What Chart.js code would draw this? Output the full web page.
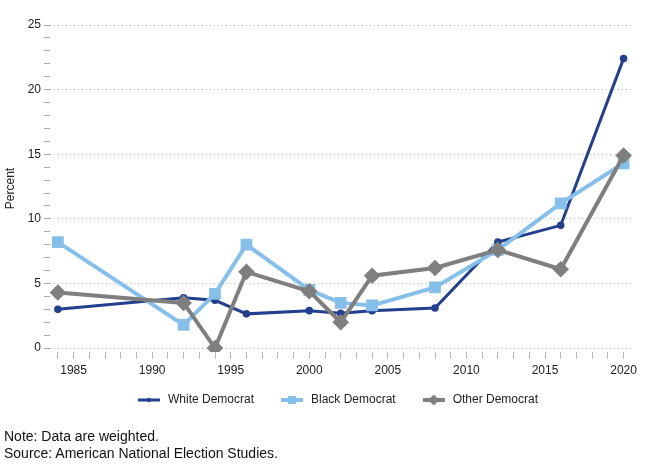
<!DOCTYPE html>
<html>
<head>
<meta charset="utf-8">
<script src="https://cdn.jsdelivr.net/npm/chart.js@4.4.1/dist/chart.umd.min.js"></script>
<style>
  body { margin: 0; background: #fff; font-family: "Liberation Sans", Arial, sans-serif; }
  #wrap { position: absolute; left: 0; top: 0; width: 645px; height: 440px; }
  .note { position: absolute; left: 4px; font-size: 14px; color: #111; }
</style>
</head>
<body>
<div id="wrap"><canvas id="myChart"></canvas></div>
<div class="note" style="top:428px">Note: Data are weighted.</div>
<div class="note" style="top:445px">Source: American National Election Studies.</div>
<script>
const years = [1984, 1992, 1994, 1996, 2000, 2002, 2004, 2008, 2012, 2016, 2020]
const whiteDem = [3.0, 3.9, 3.7, 2.65, 2.9, 2.7, 2.9, 3.1, 8.2, 9.5, 22.4]
const blackDem = [8.2, 1.8, 4.2, 8.0, 4.5, 3.5, 3.3, 4.7, 7.6, 11.2, 14.3]
const otherDem = [4.3, 3.5, 0.0, 5.9, 4.4, 2.0, 5.6, 6.2, 7.6, 6.1, 14.9]

// tick positions (labels only every 5)
const xTicks = [1984, 1985, 1986, 1987, 1988, 1989, 1990, 1991, 1992, 1993, 1994, 1995, 1996, 1997, 1998, 1999, 2000,
    2001, 2002, 2003, 2004, 2005, 2006, 2007, 2008, 2009, 2010, 2011, 2012, 2013, 2014, 2015, 2016, 2017, 2018, 2019, 2020]
const yTicks = [0, 1, 2, 3, 4, 5, 6, 7, 8, 9, 10, 11, 12, 13, 14, 15, 16, 17, 18, 19, 20, 21, 22, 23, 24, 25]

const navy = '#233f8e'
const sky = '#86c0ea'
const grey = '#7f7f7f'
const fontFamily = '"Liberation Sans", Arial, sans-serif'

// little line+marker samples for the legend
const legendIcon = (color, width, shape) => {
    const c = document.createElement('canvas')
    c.width = 22
    c.height = 12
    const g = c.getContext('2d')
    g.strokeStyle = color
    g.fillStyle = color
    g.lineWidth = width
    g.beginPath()
    g.moveTo(0, 6)
    g.lineTo(22, 6)
    g.stroke()
    g.beginPath()
    if (shape === 'circle') g.arc(11, 6, 2.2, 0, Math.PI * 2)
    if (shape === 'rect') g.rect(7, 2, 8, 8)
    if (shape === 'diamond') { g.moveTo(11, 0.5); g.lineTo(16.5, 6); g.lineTo(11, 11.5); g.lineTo(5.5, 6); g.closePath() }
    g.fill()
    return c
}
const icons = [legendIcon(navy, 3, 'circle'), legendIcon(sky, 4, 'rect'), legendIcon(grey, 4, 'diamond')]

const toPoints = (vals) => vals.map((v, i) => ({ x: years[i], y: v }))

// nudge the legend: centred under the plot area and pulled up towards the axis
const placeLegend = {
    id: 'placeLegend',
    afterLayout(chart) {
        const lg = chart.legend
        if (!lg) return
        const shiftX = chart.chartArea.left - 9
        const shiftY = -13
        lg.left += shiftX
        lg.top += shiftY
        lg.bottom += shiftY
        if (lg.legendHitBoxes) lg.legendHitBoxes.forEach(b => { b.left += shiftX / 2; b.top += shiftY })
    }
}

const data = {
    datasets: [{
        label: 'White Democrat',
        data: toPoints(whiteDem),
        borderColor: navy,
        backgroundColor: navy,
        borderWidth: 3,
        pointStyle: 'circle',
        pointRadius: 2.3,
        order: 3
    }, {
        label: 'Black Democrat',
        data: toPoints(blackDem),
        borderColor: sky,
        backgroundColor: sky,
        borderWidth: 4,
        pointStyle: 'rect',
        pointRadius: 5.5,
        order: 2
    }, {
        label: 'Other Democrat',
        data: toPoints(otherDem),
        borderColor: grey,
        backgroundColor: grey,
        borderWidth: 4,
        pointStyle: 'rectRot',
        pointRadius: 5.5,
        order: 1
    }]
}

const config = {
    type: 'line',
    data: data,
    plugins: [placeLegend],
    options: {
        responsive: true,
        maintainAspectRatio: false,
        animation: false,
        layout: { padding: { top: 25, right: 12, left: 0, bottom: 11 } },
        elements: { point: { borderWidth: 0 }, line: { tension: 0 } },
        plugins: {
            tooltip: { enabled: false },
            legend: {
                position: 'bottom',
                labels: {
                    usePointStyle: true,
                    pointStyleWidth: 26,
                    padding: 25,
                    color: '#222',
                    font: { family: fontFamily, size: 12 },
                    generateLabels: (chart) => {
                        const items = Chart.defaults.plugins.legend.labels.generateLabels(chart)
                        items.sort((a, b) => a.datasetIndex - b.datasetIndex)
                        items.forEach(it => { it.pointStyle = icons[it.datasetIndex] })
                        return items
                    }
                }
            }
        },
        scales: {
            x: {
                type: 'linear',
                min: 1983.5,
                max: 2020.6,
                afterBuildTicks: (scale) => { scale.ticks = xTicks.map(v => ({ value: v })) },
                afterFit: (scale) => { scale.height = 30 },
                border: { display: false },
                grid: {
                    drawOnChartArea: false,
                    tickLength: 7,
                    tickColor: '#bbb'
                },
                ticks: {
                    autoSkip: false,
                    maxRotation: 0,
                    padding: 4,
                    color: '#222',
                    font: { family: fontFamily, size: 12 },
                    callback: (v) => v % 5 === 0 ? String(v) : ''
                }
            },
            y: {
                min: -0.3,
                max: 25,
                afterBuildTicks: (scale) => { scale.ticks = yTicks.map(v => ({ value: v })) },
                afterFit: (scale) => { scale.width = 50 },
                border: { display: false, dash: [1, 3] },
                title: {
                    display: true,
                    text: 'Percent',
                    color: '#222',
                    padding: { top: 3, bottom: 0 },
                    font: { family: fontFamily, size: 12 }
                },
                grid: {
                    color: (ctx) => ctx.tick && ctx.tick.value % 5 === 0 ? '#b8b8b8' : 'transparent',
                    tickLength: 6,
                    tickColor: '#aaa'
                },
                ticks: {
                    autoSkip: false,
                    padding: 3,
                    color: '#222',
                    font: { family: fontFamily, size: 12 },
                    callback: (v) => v % 5 === 0 ? String(v) : ''
                }
            }
        }
    }
}

const myChart = new Chart(document.getElementById('myChart'), config)
</script>
</body>
</html>
